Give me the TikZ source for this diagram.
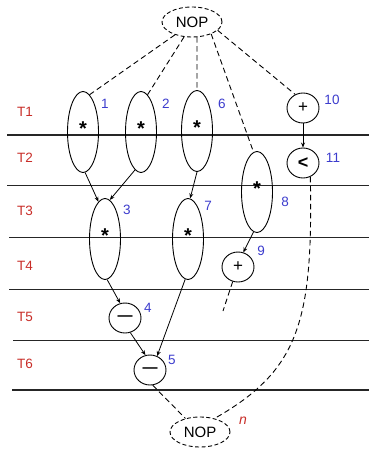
\documentclass[tikz,border=0pt]{standalone}
\usepackage{fontspec}
\setmainfont{Liberation Sans}
\usetikzlibrary{shapes.geometric,arrows.meta}
\definecolor{steplabel}{RGB}{200,45,40}
\definecolor{idlabel}{RGB}{60,60,205}
\begin{document}
\begin{tikzpicture}[x=1pt,y=-1pt,
  every node/.style={font=\fontsize{13.5}{16}\selectfont},
  tall/.style={draw, ellipse, line width=0.9pt, minimum width=31pt, minimum height=81pt,
    inner sep=0pt, font=\fontsize{20}{22}\selectfont\bfseries, text depth=7pt},
  small/.style={draw, ellipse, line width=0.9pt, minimum width=32pt, minimum height=30pt,
    inner sep=0pt, font=\fontsize{17}{19}\selectfont},
  nop/.style={draw, ellipse, line width=0.9pt, dash pattern=on 4pt off 2.5pt,
    minimum width=60pt, minimum height=30pt, inner sep=0pt, font=\fontsize{15}{18}\selectfont},
  tlabel/.style={text=steplabel},
  idnum/.style={text=idlabel},
  stage/.style={line width=1.4pt, black!85},
  dep/.style={line width=0.8pt, -{Stealth[length=5pt,width=4pt]}},
  ctl/.style={line width=0.9pt, dash pattern=on 5.5pt off 3.5pt},
]
\useasboundingbox (0,0) rectangle (369,449);

% time-step boundaries
\draw[stage] (7,135) -- (369,135);
\draw[stage] (7,185.7) -- (369,185.7);
\draw[stage] (9,237.3) -- (369,237.3);
\draw[stage] (9,289.5) -- (369,289.5);
\draw[stage] (13,340.7) -- (369,340.7);
\draw[stage] (12,390) -- (369,390);

% time-step names
\node[tlabel] (t1) at (25,111.5) {T1};
\node[tlabel] (t2) at (25,158) {T2};
\node[tlabel] (t3) at (25,211) {T3};
\node[tlabel] (t4) at (25,265.5) {T4};
\node[tlabel] (t5) at (25,317) {T5};
\node[tlabel] (t6) at (25,363.5) {T6};

% operations
\node[nop] (top) at (192,22) {NOP};
\node[tall] (o1) at (83,132) {*};
\node[tall] (o2) at (141,132) {*};
\node[tall] (o6) at (197,131) {*};
\node[small] (o10) at (303,108) {+};
\node[small, font=\fontsize{18}{20}\selectfont\bfseries] (o11) at (303,163) {<};
\node[tall] (o8) at (257,192) {*};
\node[tall] (o3) at (105,239) {*};
\node[tall] (o7) at (188,239) {*};
\node[small] (o9) at (238,267) {+};
\node[small, font=\fontsize{15}{18}\selectfont\bfseries] (o4) at (125,318) {—};
\node[small, font=\fontsize{15}{18}\selectfont\bfseries] (o5) at (150,370) {—};
\node[nop] (bot) at (200,432) {NOP};
\coordinate (tail9) at (223,311);

% operation numbers
\node[idnum] (l1) at (105,104) {1};
\node[idnum] (l2) at (166,104) {2};
\node[idnum] (l6) at (222,104) {6};
\node[idnum] (l10) at (332,100) {10};
\node[idnum] (l11) at (333,158) {11};
\node[idnum] (l8) at (285,202) {8};
\node[idnum] (l3) at (127,210) {3};
\node[idnum] (l7) at (208,206) {7};
\node[idnum] (l9) at (261,251) {9};
\node[idnum] (l4) at (148,308) {4};
\node[idnum] (l5) at (172,360) {5};
\node[text=steplabel, font=\fontsize{14}{16}\selectfont\itshape] (ln) at (243,421) {n};

% control edges from the entry NOP
\draw[ctl] (top.217) -- (o1.80);
\draw[ctl] (top.242) -- (o2.80);
\draw[ctl] (top.288) -- (o6.90);
\draw[ctl] (top.328) -- (o8.95);
\draw[ctl] (top.342) -- (o10.120);

% data dependences
\draw[dep] (o10) -- (o11);
\draw[dep] (o1.273) -- (o3.100);
\draw[dep] (o2.261) -- (o3.83);
\draw[dep] (o6.270) -- (o7.87);
\draw[dep] (o8.265) -- (o9.70);
\draw[dep] (o3.273) -- (o4.108);
\draw[dep] (o7.266) -- (o5.63);
\draw[dep] (o4.290) -- (o5.107);

% control edges to the exit NOP
\draw[ctl] (o9.-110) -- (tail9);
\draw[ctl] (o5.-80) -- (bot.137);
\draw[ctl] (o11.-62) .. controls (313,320) and (300,370) .. (bot.43);
\end{tikzpicture}
\end{document}
